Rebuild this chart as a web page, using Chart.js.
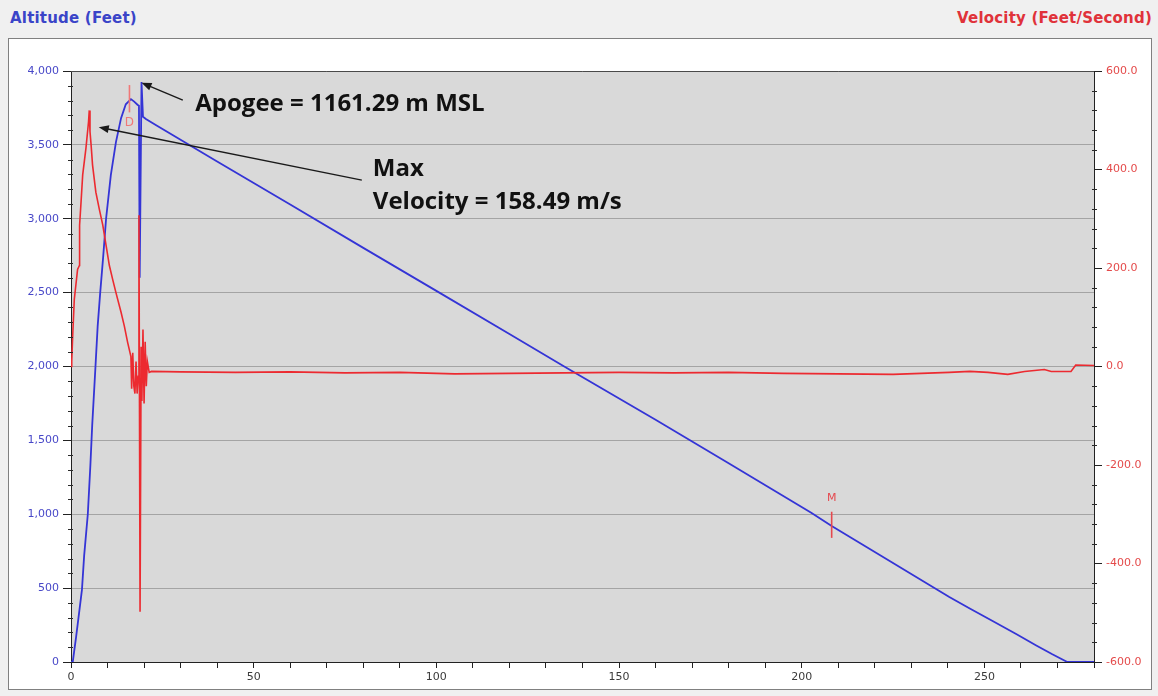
<!DOCTYPE html>
<html>
<head>
<meta charset="utf-8">
<title>Flight profile</title>
<script src="https://cdn.jsdelivr.net/npm/chart.js@4.4.1/dist/chart.umd.min.js"></script>
<style>
  html, body { margin: 0; padding: 0; background: #f0f0f0; }
  body { width: 1158px; height: 696px; position: relative; overflow: hidden; }
  #panel { position: absolute; left: 8px; top: 38px; width: 1144px; height: 652px;
           background: #ffffff; border: 1px solid #808080; box-sizing: border-box; }
  .axis-title { position: absolute; top: 8px; font-family: "DejaVu Sans", sans-serif;
                font-weight: bold; font-size: 15px; line-height: 20px; white-space: nowrap; }
  #altTitle { left: 10px; color: #3a44c8; letter-spacing: 0.2px; }
  #velTitle { right: 6px; color: #e0323a; letter-spacing: 0.2px; }
  #chart { position: absolute; left: 0; top: 0; }
</style>
</head>
<body>
<div id="panel"></div>
<div class="axis-title" id="altTitle">Altitude (Feet)</div>
<div class="axis-title" id="velTitle">Velocity (Feet/Second)</div>
<canvas id="chart" width="1158" height="696"></canvas>
<script>
// Reported flight figures (metric) and unit conversion
const M_PER_FT = 0.3048;
const APOGEE_M = 1161.29;
const MAX_VEL_MS = 158.49;

// Altitude track (seconds, feet)
const altTime = [0, 0.5, 1.4, 2.3, 3.0, 3.6, 4.6, 5.3, 5.8, 6.7,
                 7.3, 8.0, 8.8, 9.6, 10.9, 12.3, 13.7, 15.0, 16.4, 17.3,
                 18.2, 18.6, 18.8, 19.3, 19.7, 20.5, 23.2, 40, 60, 80,
                 100, 120, 135, 160, 180, 202.6, 208.2, 220, 240.4, 246,
                 251.5, 258.7, 264.2, 268.6, 272.7, 280];
const altitude = [0, 5, 170, 350, 490, 720, 1000, 1330, 1600, 2000,
                  2273, 2502, 2740, 3000, 3295, 3519, 3681, 3775, APOGEE_M / M_PER_FT, 3793,
                  3772, 3765, 2600, 3925, 3690, 3675, 3634, 3388, 3096, 2803,
                  2512, 2220, 2000, 1640, 1345, 1010, 920, 745, 440, 362,
                  288, 190, 112, 52, 0, 0];

// Velocity track (seconds, feet/second)
const velTime = [0, 0.2, 0.46, 0.9, 1.8, 2.3, 2.35, 2.7, 3.2, 4.1,
                 4.8, 5.0, 5.2, 5.5, 5.9, 6.8, 7.7, 8.7, 9.6, 10.5,
                 11.4, 12.3, 13.7, 14.6, 15.5, 16.4, 16.6, 16.9, 17.2, 17.5,
                 17.8, 18.1, 18.4, 18.6, 18.9, 19.2, 19.4, 19.7, 20.0, 20.3,
                 20.6, 20.9, 21.4, 22, 30, 45, 60, 75, 90, 105,
                 120, 135, 150, 165, 180, 195, 210, 225, 240.4, 246,
                 251, 256.4, 261, 266.4, 268.3, 273.7, 275, 280];
const velocity = [0, 10, 62, 136, 197, 205, 287, 328, 389, 444,
                  497, MAX_VEL_MS / M_PER_FT, 477, 450, 409, 354, 321, 287, 246, 205,
                  177, 150, 110, 82, 49, 20, -45, 28, -40, -55,
                  10, -55, -20, 307, -498, 40, -70, 75, -75, 50,
                  -40, 10, -12, -10, -11, -12, -11, -13, -12, -15,
                  -14, -13, -12, -13, -12, -14, -15, -16, -12, -10,
                  -12, -16, -10, -6, -10, -10, 3, 2];

// Event markers: drogue (D) and main (M) deployment
const eventNames = ['D', 'M'];
const eventTimes = [16.0, 208.2];

// Axis ranges and tick steps
const timeRange = [0, 280];
const altRange = [0, 4000];
const velRange = [-600, 600];

const toPoints = (xs, ys) => xs.slice(0, Math.min(xs.length, ys.length)).map((x, i) => ({ x, y: ys[i] }));

const BLUE = '#3434d6';
const RED = '#ec2a30';

// Gray plotting surface, top frame line and minor ticks on both value axes
const plotFrame = {
  id: 'plotFrame',
  beforeDraw(chart) {
    const { ctx, chartArea: a } = chart;
    ctx.save();
    ctx.fillStyle = '#d9d9d9';
    ctx.fillRect(a.left, a.top, a.right - a.left, a.bottom - a.top);
    ctx.restore();
  },
  afterDraw(chart) {
    const { ctx, chartArea: a } = chart;
    const yl = chart.scales.y, yr = chart.scales.y1;
    ctx.save();
    ctx.strokeStyle = '#4a4a4a';
    ctx.lineWidth = 1;
    ctx.beginPath();
    ctx.moveTo(a.left, a.top + 0.5);
    ctx.lineTo(a.right, a.top + 0.5);
    ctx.stroke();
    ctx.strokeStyle = '#2a2a2a';
    ctx.beginPath();
    for (let v = altRange[0]; v <= altRange[1]; v += 100) {
      if (v % 500 === 0) continue;
      const y = Math.round(yl.getPixelForValue(v)) + 0.5;
      ctx.moveTo(a.left - 3, y); ctx.lineTo(a.left + 2, y);
    }
    for (let v = velRange[0]; v <= velRange[1]; v += 40) {
      if (v % 200 === 0) continue;
      const y = Math.round(yr.getPixelForValue(v)) + 0.5;
      ctx.moveTo(a.right - 2, y); ctx.lineTo(a.right + 3, y);
    }
    ctx.stroke();
    ctx.restore();
  }
};

function drawArrow(ctx, x0, y0, x1, y1) {
  const ang = Math.atan2(y1 - y0, x1 - x0);
  const len = 10, half = 4;
  ctx.beginPath();
  ctx.moveTo(x0, y0);
  ctx.lineTo(x1 - Math.cos(ang) * len * 0.8, y1 - Math.sin(ang) * len * 0.8);
  ctx.stroke();
  ctx.beginPath();
  ctx.moveTo(x1, y1);
  ctx.lineTo(x1 - Math.cos(ang) * len + Math.sin(ang) * half, y1 - Math.sin(ang) * len - Math.cos(ang) * half);
  ctx.lineTo(x1 - Math.cos(ang) * len - Math.sin(ang) * half, y1 - Math.sin(ang) * len + Math.cos(ang) * half);
  ctx.closePath();
  ctx.fill();
}

// Callouts for apogee and peak velocity, plus deployment event ticks
const flightNotes = {
  id: 'flightNotes',
  afterDatasetsDraw(chart) {
    const { ctx } = chart;
    const xs = chart.scales.x, ys = chart.scales.y;
    const px = t => xs.getPixelForValue(t);
    const py = a => ys.getPixelForValue(a);
    ctx.save();

    // deployment markers
    ctx.textAlign = 'center';
    ctx.textBaseline = 'middle';
    ctx.lineWidth = 1.6;
    const markColors = ['#f07878', '#e5484e'];
    const markFonts = ['12px "DejaVu Sans", sans-serif', '11px "DejaVu Sans", sans-serif'];
    const tickSpans = [[3905, 3720], [1017, 840]];
    const labelAlt = [3650, 1112];
    eventNames.forEach((name, i) => {
      const x = px(eventTimes[i]);
      ctx.strokeStyle = markColors[i];
      ctx.fillStyle = markColors[i];
      ctx.font = markFonts[i];
      ctx.beginPath();
      ctx.moveTo(x, py(tickSpans[i][0]));
      ctx.lineTo(x, py(tickSpans[i][1]));
      ctx.stroke();
      ctx.fillText(name, x, py(labelAlt[i]));
    });

    // callout arrows
    ctx.strokeStyle = '#1a1a1a';
    ctx.fillStyle = '#1a1a1a';
    ctx.lineWidth = 1.4;
    drawArrow(ctx, px(30.6), py(3803), px(19.3), py(3920));
    drawArrow(ctx, px(79.6), py(3261), px(7.6), py(3620));

    // callout text
    ctx.fillStyle = '#111111';
    ctx.textAlign = 'left';
    ctx.textBaseline = 'middle';
    ctx.font = 'bold 24px "Open Sans", sans-serif';
    ctx.fillText('Apogee = ' + APOGEE_M.toFixed(2) + ' m MSL', px(34.0), py(3778));
    ctx.fillText('Max', px(82.6), py(3335));
    ctx.fillText('Velocity = ' + MAX_VEL_MS.toFixed(2) + ' m/s', px(82.6), py(3115));
    ctx.restore();
  }
};

const tickFont = { family: '"DejaVu Sans", sans-serif', size: 11 };

new Chart(document.getElementById('chart'), {
  type: 'line',
  data: {
    datasets: [
      {
        label: 'Velocity (Feet/Second)',
        data: toPoints(velTime, velocity),
        yAxisID: 'y1',
        borderColor: RED,
        borderWidth: 1.6,
        pointRadius: 0,
        tension: 0,
        order: 0
      },
      {
        label: 'Altitude (Feet)',
        data: toPoints(altTime, altitude),
        yAxisID: 'y',
        borderColor: BLUE,
        borderWidth: 1.8,
        pointRadius: 0,
        tension: 0,
        order: 1
      }
    ]
  },
  options: {
    responsive: false,
    animation: false,
    events: [],
    layout: { padding: { top: 71, left: 0, right: 0, bottom: 0 } },
    plugins: { legend: { display: false }, tooltip: { enabled: false }, title: { display: false } },
    scales: {
      x: {
        type: 'linear',
        min: timeRange[0], max: timeRange[1],
        afterFit: s => { s.height = 34; },
        border: { color: '#222222', width: 1 },
        grid: { drawOnChartArea: false, tickLength: 6, tickColor: '#222222' },
        ticks: {
          stepSize: 10, autoSkip: false, maxRotation: 0, padding: 3,
          color: '#3a3a3a', font: tickFont,
          callback: v => (v % 50 === 0 ? String(v) : '')
        }
      },
      y: {
        type: 'linear', position: 'left',
        min: altRange[0], max: altRange[1],
        afterFit: s => { s.width = 71; },
        border: { color: '#222222', width: 1 },
        grid: { color: '#a4a4a4', tickColor: '#222222', tickLength: 8 },
        ticks: {
          stepSize: 500, padding: 4, color: '#4848c8', font: tickFont,
          callback: v => v.toLocaleString('en-US')
        }
      },
      y1: {
        type: 'linear', position: 'right',
        min: velRange[0], max: velRange[1],
        afterFit: s => { s.width = 64; },
        border: { color: '#222222', width: 1 },
        grid: { drawOnChartArea: false, tickColor: '#222222', tickLength: 8 },
        ticks: {
          stepSize: 200, padding: 4, color: '#e44a4a', font: tickFont,
          callback: v => v.toFixed(1)
        }
      }
    }
  },
  plugins: [plotFrame, flightNotes]
});
</script>
</body>
</html>
